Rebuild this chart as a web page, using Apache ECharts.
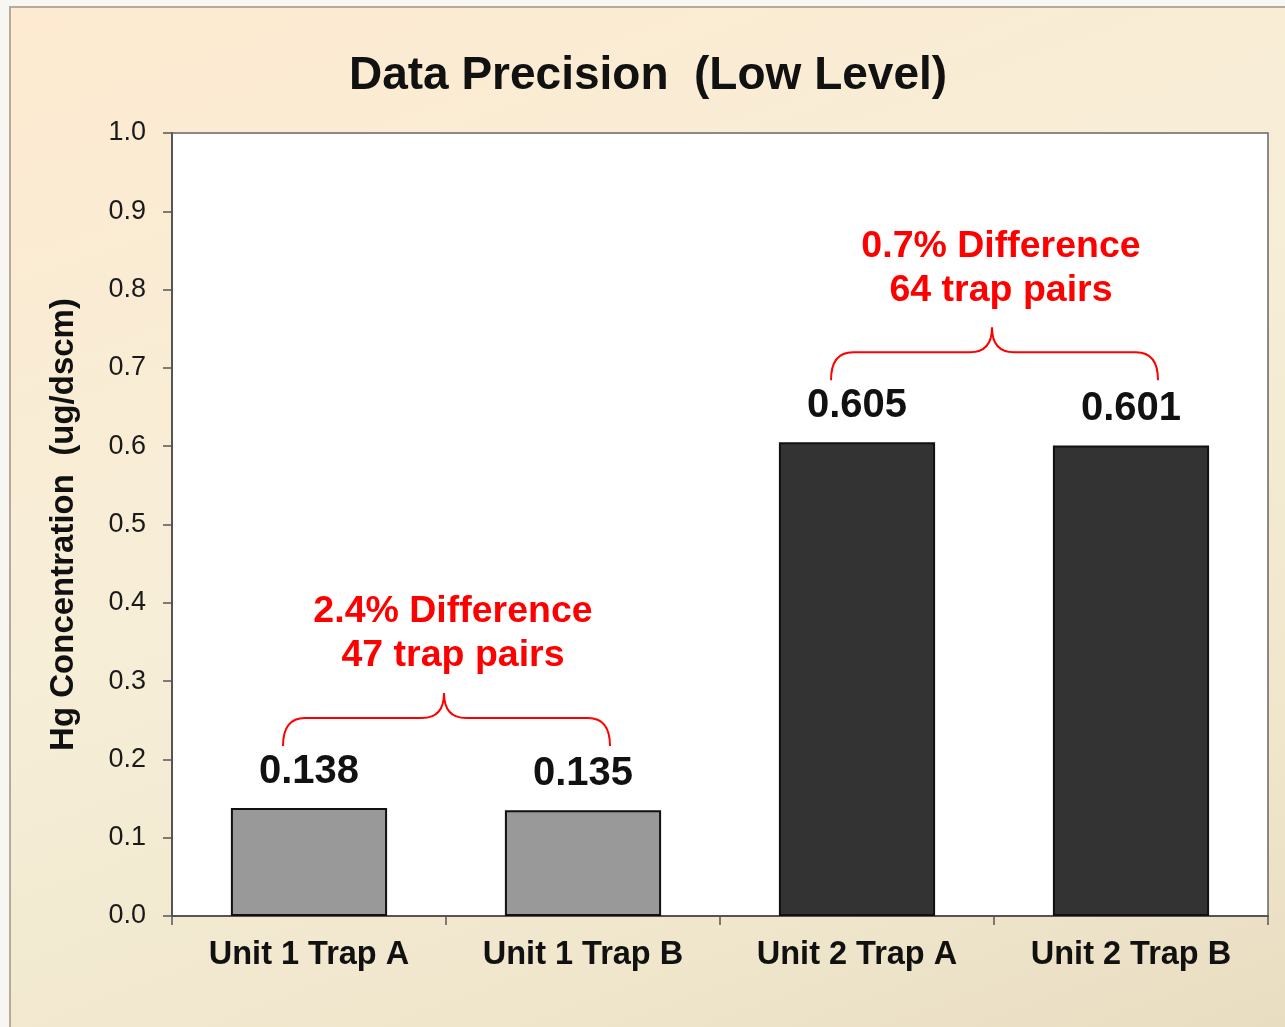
<!DOCTYPE html>
<html>
<head>
<meta charset="utf-8">
<title>Data Precision (Low Level)</title>
<script src="https://cdn.jsdelivr.net/npm/echarts@6/dist/echarts.min.js"></script>
<style>
  html, body { margin: 0; padding: 0; background: #f7f6f2; }
  #main {
    position: absolute; left: 9px; top: 6px;
    width: 1276px; height: 1021px;
    box-sizing: border-box;
    border-left: 2px solid #b5ab97;
    border-top: 2px solid #b5ab97;
    background: linear-gradient(160deg, #fdead0 0%, #f7eed8 45%, #efe6cc 80%, #e9ddc1 100%);
  }
</style>
</head>
<body>
<div id="main"></div>
<script>
  // 数据
  var categories = ['Unit 1 Trap A', 'Unit 1 Trap B', 'Unit 2 Trap A', 'Unit 2 Trap B'];
  var values = [0.138, 0.135, 0.605, 0.601];
  var barColors = ['#999999', '#999999', '#333333', '#333333'];
  var yTicks = [0, 0.1, 0.2, 0.3, 0.4, 0.5, 0.6, 0.7, 0.8, 0.9, 1.0];

  // 红色注释：每对柱子
  var pairLeft = [0, 2];
  var pairRight = [1, 3];
  var noteLine1 = ['2.4% Difference', '0.7% Difference'];
  var noteLine2 = ['47 trap pairs', '64 trap pairs'];

  var font = 'Liberation Sans, Arial, Helvetica, sans-serif';

  var myChart = echarts.init(document.getElementById('main'));

  var barData = values.map(function (v, i) {
    return { value: v, itemStyle: { color: barColors[i] } };
  });

  var noteData = pairLeft.map(function (l, i) {
    var r = pairRight[i];
    return [l, Math.max(values[l], values[r]), r, i];
  });

  function renderBrace(params, api) {
    var i = api.value(3);
    var pL = api.coord([api.value(0), api.value(1)]);
    var pR = api.coord([api.value(2), api.value(1)]);
    var top = pL[1];
    var xL = pL[0] - 26, xR = pR[0] + 27, xM = (pL[0] + pR[0]) / 2 - 2;
    var yE = top - 62, yH = top - 90, yT = top - 115;
    var d = 'M' + xL + ' ' + yE +
      ' Q' + xL + ' ' + yH + ' ' + (xL + 22) + ' ' + yH +
      ' L' + (xM - 22) + ' ' + yH +
      ' Q' + xM + ' ' + yH + ' ' + xM + ' ' + yT +
      ' Q' + xM + ' ' + yH + ' ' + (xM + 22) + ' ' + yH +
      ' L' + (xR - 22) + ' ' + yH +
      ' Q' + xR + ' ' + yH + ' ' + xR + ' ' + yE;
    return {
      type: 'group',
      children: [
        {
          type: 'path',
          shape: { pathData: d },
          style: { fill: null, stroke: '#ff0000', lineWidth: 2 }
        },
        {
          type: 'text',
          style: {
            text: noteLine1[i], x: xM + 9, y: top - 196,
            fill: '#ff0000', fontSize: 37.5, fontWeight: 'bold', fontFamily: font,
            align: 'center', verticalAlign: 'middle'
          }
        },
        {
          type: 'text',
          style: {
            text: noteLine2[i], x: xM + 9, y: top - 152,
            fill: '#ff0000', fontSize: 37.5, fontWeight: 'bold', fontFamily: font,
            align: 'center', verticalAlign: 'middle'
          }
        }
      ]
    };
  }

  var option = {
    animation: false,
    title: {
      text: 'Data Precision  (Low Level)',
      left: 'center',
      top: 40,
      textStyle: { fontSize: 46, fontWeight: 'bold', color: '#111', fontFamily: font }
    },
    grid: {
      left: 161, top: 125, right: 17, bottom: 111,
      show: true,
      backgroundColor: '#ffffff',
      borderColor: '#666',
      borderWidth: 1.5
    },
    xAxis: {
      type: 'category',
      data: categories,
      axisLine: { lineStyle: { color: '#555', width: 2 } },
      axisTick: { show: true, length: 9, lineStyle: { color: '#555', width: 1.5 } },
      axisLabel: {
        margin: 23, fontSize: 32.5, fontWeight: 'bold', color: '#111', fontFamily: font
      }
    },
    yAxis: {
      type: 'value',
      min: 0, max: 1, interval: 0.1,
      name: 'Hg Concentration  (ug/dscm)',
      nameLocation: 'middle',
      nameGap: 92,
      nameTextStyle: { fontSize: 33, fontWeight: 'bold', color: '#111', fontFamily: font },
      axisLine: { show: true, lineStyle: { color: '#555', width: 2 } },
      axisTick: { show: true, length: 9, lineStyle: { color: '#555', width: 1.5 } },
      splitLine: { show: false },
      axisLabel: {
        margin: 26, fontSize: 27, color: '#1a1a1a', fontFamily: font,
        customValues: yTicks,
        formatter: function (v) { return v.toFixed(1); }
      }
    },
    series: [
      {
        type: 'bar',
        data: barData,
        barWidth: '57%',
        itemStyle: { borderColor: '#111', borderWidth: 2 },
        label: {
          show: true, position: 'top', distance: 16,
          fontSize: 40, fontWeight: 'bold', color: '#111', fontFamily: font,
          formatter: function (p) { return p.value.toFixed(3); }
        }
      },
      {
        type: 'custom',
        data: noteData,
        renderItem: renderBrace,
        clip: false,
        silent: true,
        z: 5
      }
    ]
  };

  myChart.setOption(option);
</script>
</body>
</html>
